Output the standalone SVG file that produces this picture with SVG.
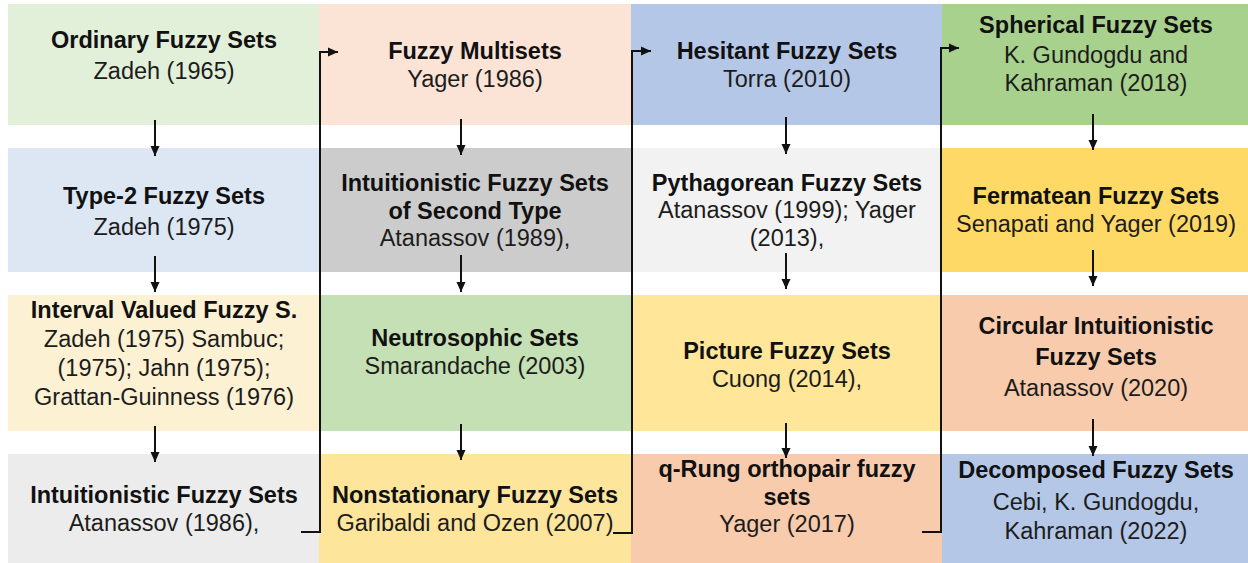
<svg xmlns="http://www.w3.org/2000/svg" width="1248" height="563" viewBox="0 0 1248 563">
<style>
text{font-family:"Liberation Sans",Arial,Helvetica,sans-serif;font-size:23.5px;text-anchor:middle;fill:#1c1c1c}
.t{font-weight:bold;fill:#111}
.ln{fill:none;stroke:#111;stroke-width:2}
</style>
<defs>
<marker id="ah" viewBox="0 0 10 10" refX="10" refY="5" markerWidth="10" markerHeight="10" markerUnits="userSpaceOnUse" orient="auto">
<path d="M0,0.5 L10,5 L0,9.5 z" fill="#111"/>
</marker>
</defs>
<rect width="1248" height="563" fill="#ffffff"/>

<g id="n-ordinary"><rect x="8" y="4" width="311" height="121" fill="#e2efd9"/>
<text class="t" x="164" y="48">Ordinary Fuzzy Sets</text><text x="164" y="79">Zadeh (1965)</text></g>
<g id="n-type2"><rect x="8" y="148" width="311" height="124" fill="#dde7f4"/>
<text class="t" x="164" y="204">Type-2 Fuzzy Sets</text><text x="164" y="235">Zadeh (1975)</text></g>
<g id="n-interval"><rect x="8" y="295" width="311" height="136" fill="#fdf1d4"/>
<text class="t" x="164" y="318">Interval Valued Fuzzy S.</text><text x="164" y="347">Zadeh (1975) Sambuc;</text><text x="164" y="376">(1975); Jahn (1975);</text><text x="164" y="405">Grattan-Guinness (1976)</text></g>
<g id="n-ifs"><rect x="8" y="454" width="311" height="109" fill="#ececec"/>
<text class="t" x="164" y="503">Intuitionistic Fuzzy Sets</text><text x="164" y="531">Atanassov (1986),</text></g>

<g id="n-multisets"><rect x="319" y="4" width="312" height="121" fill="#fbe3d6"/>
<text class="t" x="475" y="59">Fuzzy Multisets</text><text x="475" y="87">Yager (1986)</text></g>
<g id="n-ifs2"><rect x="319" y="148" width="312" height="124" fill="#cdcccc"/>
<text class="t" x="475" y="191">Intuitionistic Fuzzy Sets</text><text class="t" x="475" y="219">of Second Type</text><text x="475" y="246">Atanassov (1989),</text></g>
<g id="n-neutro"><rect x="319" y="295" width="312" height="136" fill="#c5e0b4"/>
<text class="t" x="475" y="346">Neutrosophic Sets</text><text x="475" y="374">Smarandache (2003)</text></g>
<g id="n-nonstat"><rect x="319" y="454" width="312" height="109" fill="#fde59c"/>
<text class="t" x="475" y="503">Nonstationary Fuzzy Sets</text><text x="475" y="531">Garibaldi and Ozen (2007)</text></g>

<g id="n-hesitant"><rect x="631" y="4" width="311" height="121" fill="#b4c7e7"/>
<text class="t" x="787" y="59">Hesitant Fuzzy Sets</text><text x="787" y="87">Torra (2010)</text></g>
<g id="n-pyth"><rect x="631" y="148" width="311" height="124" fill="#f2f2f2"/>
<text class="t" x="787" y="191">Pythagorean Fuzzy Sets</text><text x="787" y="218">Atanassov (1999); Yager</text><text x="787" y="246">(2013),</text></g>
<g id="n-picture"><rect x="631" y="295" width="311" height="136" fill="#ffe699"/>
<text class="t" x="787" y="359">Picture Fuzzy Sets</text><text x="787" y="387">Cuong (2014),</text></g>
<g id="n-qrung"><rect x="631" y="454" width="311" height="109" fill="#f8cbad"/>
<text class="t" x="787" y="477">q-Rung orthopair fuzzy</text><text class="t" x="787" y="505">sets</text><text x="787" y="532">Yager (2017)</text></g>

<g id="n-spherical"><rect x="942" y="4" width="306" height="121" fill="#a9d18e"/>
<text class="t" x="1096" y="33">Spherical Fuzzy Sets</text><text x="1096" y="63">K. Gundogdu and</text><text x="1096" y="91">Kahraman (2018)</text></g>
<g id="n-fermatean"><rect x="942" y="148" width="306" height="124" fill="#ffd966"/>
<text class="t" x="1096" y="204">Fermatean Fuzzy Sets</text><text x="1096" y="232">Senapati and Yager (2019)</text></g>
<g id="n-circular"><rect x="942" y="295" width="306" height="136" fill="#f8cbad"/>
<text class="t" x="1096" y="334">Circular Intuitionistic</text><text class="t" x="1096" y="365">Fuzzy Sets</text><text x="1096" y="396">Atanassov (2020)</text></g>
<g id="n-decomposed"><rect x="942" y="454" width="306" height="109" fill="#b4c7e7"/>
<text class="t" x="1096" y="478">Decomposed Fuzzy Sets</text><text x="1096" y="510">Cebi, K. Gundogdu,</text><text x="1096" y="539">Kahraman (2022)</text></g>

<g id="connectors">
<path class="ln" marker-end="url(#ah)" d="M155,120 V156"/>
<path class="ln" marker-end="url(#ah)" d="M155,256 V292"/>
<path class="ln" marker-end="url(#ah)" d="M155,426 V462"/>
<path class="ln" marker-end="url(#ah)" d="M461,119 V155"/>
<path class="ln" marker-end="url(#ah)" d="M461,255 V292"/>
<path class="ln" marker-end="url(#ah)" d="M461,424 V460"/>
<path class="ln" marker-end="url(#ah)" d="M786,117 V154"/>
<path class="ln" marker-end="url(#ah)" d="M786,253 V289"/>
<path class="ln" marker-end="url(#ah)" d="M786,423 V458"/>
<path class="ln" marker-end="url(#ah)" d="M1093,114 V150"/>
<path class="ln" marker-end="url(#ah)" d="M1093,250 V286"/>
<path class="ln" marker-end="url(#ah)" d="M1093,419 V456"/>
<path class="ln" marker-end="url(#ah)" d="M301,532 H320 V52 H338"/>
<path class="ln" marker-end="url(#ah)" d="M613,533 H632 V51 H651"/>
<path class="ln" marker-end="url(#ah)" d="M922,532 H941 V48 H959"/>
</g>
</svg>
